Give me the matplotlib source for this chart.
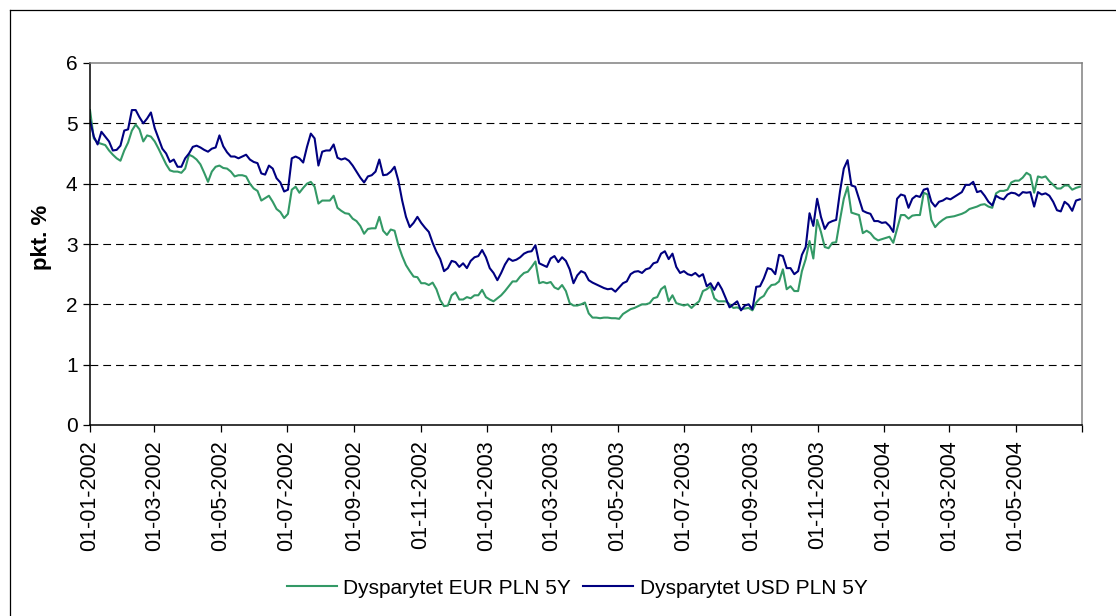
import matplotlib
matplotlib.use("Agg")
import matplotlib.pyplot as plt
import pandas as pd
import numpy as np
from matplotlib.lines import Line2D

# observation dates every 3.5 days (2002-01-01 .. 2004-06-29)
dates = pd.date_range("2002-01-01", periods=261, freq="84h")

# EUR/PLN 5Y spread: values on the weekly dates and on the mid-week dates
eur_week = [
    5.22, 4.68, 4.64, 4.48, 4.38, 4.68, 4.98, 4.70, 4.78, 4.58,
    4.32, 4.20, 4.18, 4.48, 4.40, 4.18, 4.20, 4.30, 4.25, 4.12,
    4.14, 4.00, 3.88, 3.76, 3.70, 3.53, 3.50, 3.95, 3.93, 4.03,
    3.67, 3.72, 3.80, 3.55, 3.50, 3.38, 3.17, 3.26, 3.45, 3.15,
    3.22, 2.80, 2.55, 2.45, 2.35, 2.36, 2.07, 1.98, 2.20, 2.08,
    2.10, 2.15, 2.12, 2.05, 2.15, 2.30, 2.38, 2.52, 2.62, 2.35,
    2.35, 2.28, 2.32, 2.02, 1.98, 2.03, 1.78, 1.77, 1.78, 1.77,
    1.84, 1.92, 1.97, 2.00, 2.10, 2.25, 2.05, 2.02, 1.98, 1.94,
    2.05, 2.25, 2.10, 2.05, 2.00, 1.95, 1.93, 1.90, 2.10, 2.25,
    2.33, 2.58, 2.30, 2.22, 2.75, 2.76, 3.20, 2.93, 3.03, 3.75,
    3.52, 3.48, 3.22, 3.10, 3.08, 3.12, 3.25, 3.48, 3.47, 3.48,
    3.82, 3.28, 3.40, 3.45, 3.48, 3.53, 3.60, 3.65, 3.62, 3.84,
    3.88, 4.02, 4.05, 4.18, 3.85, 4.10, 4.04, 3.92, 3.97, 3.90,
    3.95,
]
eur_mid = [
    4.75, 4.66, 4.55, 4.42, 4.55, 4.88, 4.90, 4.80, 4.70, 4.45,
    4.22, 4.20, 4.25, 4.45, 4.32, 4.03, 4.28, 4.26, 4.20, 4.14,
    4.12, 3.92, 3.72, 3.80, 3.58, 3.43, 3.90, 3.85, 4.00, 3.95,
    3.72, 3.72, 3.60, 3.51, 3.42, 3.30, 3.25, 3.26, 3.22, 3.24,
    2.98, 2.65, 2.46, 2.35, 2.32, 2.25, 1.97, 2.15, 2.08, 2.12,
    2.15, 2.24, 2.08, 2.10, 2.22, 2.38, 2.46, 2.54, 2.71, 2.37,
    2.37, 2.25, 2.22, 1.98, 2.00, 1.85, 1.78, 1.78, 1.77, 1.76,
    1.88, 1.94, 2.00, 2.02, 2.12, 2.30, 2.15, 2.00, 2.00, 2.00,
    2.22, 2.30, 2.05, 2.05, 1.94, 1.92, 1.94, 2.03, 2.14, 2.32,
    2.38, 2.25, 2.22, 2.55, 3.05, 3.40, 2.95, 3.02, 3.40, 3.95,
    3.50, 3.18, 3.18, 3.06, 3.10, 3.02, 3.48, 3.42, 3.48, 3.85,
    3.40, 3.35, 3.44, 3.46, 3.50, 3.58, 3.62, 3.66, 3.60, 3.88,
    3.90, 4.05, 4.10, 4.14, 4.12, 4.12, 3.98, 3.92, 3.97, 3.93,
]

# USD/PLN 5Y spread
usd_week = [
    5.05, 4.65, 4.78, 4.55, 4.63, 4.90, 5.22, 5.00, 5.18, 4.75,
    4.50, 4.40, 4.28, 4.50, 4.63, 4.56, 4.58, 4.80, 4.52, 4.45,
    4.45, 4.40, 4.34, 4.15, 4.25, 4.02, 3.90, 4.45, 4.35, 4.83,
    4.30, 4.55, 4.65, 4.40, 4.38, 4.20, 4.02, 4.14, 4.40, 4.15,
    4.28, 3.72, 3.28, 3.45, 3.27, 3.02, 2.75, 2.60, 2.70, 2.68,
    2.72, 2.80, 2.78, 2.52, 2.52, 2.76, 2.74, 2.84, 2.88, 2.68,
    2.62, 2.80, 2.78, 2.58, 2.48, 2.52, 2.36, 2.30, 2.25, 2.21,
    2.35, 2.50, 2.55, 2.58, 2.68, 2.84, 2.75, 2.62, 2.55, 2.48,
    2.46, 2.30, 2.24, 2.25, 1.95, 2.05, 1.98, 1.92, 2.30, 2.60,
    2.50, 2.80, 2.60, 2.55, 2.95, 3.30, 3.45, 3.35, 3.40, 4.25,
    3.97, 3.75, 3.52, 3.38, 3.35, 3.30, 3.75, 3.80, 3.75, 3.78,
    3.92, 3.62, 3.72, 3.74, 3.82, 3.98, 4.03, 3.88, 3.70, 3.80,
    3.74, 3.85, 3.80, 3.85, 3.62, 3.82, 3.80, 3.56, 3.70, 3.55,
    3.74,
]
usd_mid = [
    4.78, 4.86, 4.70, 4.56, 4.88, 5.22, 5.10, 5.08, 4.92, 4.58,
    4.36, 4.28, 4.42, 4.61, 4.60, 4.53, 4.60, 4.62, 4.45, 4.42,
    4.48, 4.36, 4.17, 4.30, 4.09, 3.87, 4.42, 4.42, 4.61, 4.75,
    4.53, 4.55, 4.43, 4.42, 4.30, 4.10, 4.12, 4.20, 4.14, 4.20,
    4.05, 3.45, 3.35, 3.35, 3.20, 2.87, 2.55, 2.72, 2.62, 2.60,
    2.78, 2.90, 2.60, 2.40, 2.66, 2.72, 2.78, 2.87, 2.98, 2.65,
    2.76, 2.70, 2.72, 2.35, 2.55, 2.40, 2.33, 2.27, 2.26, 2.28,
    2.38, 2.54, 2.52, 2.60, 2.70, 2.88, 2.84, 2.52, 2.50, 2.52,
    2.50, 2.35, 2.36, 2.10, 2.00, 1.90, 2.00, 2.29, 2.43, 2.58,
    2.82, 2.60, 2.50, 2.82, 3.51, 3.75, 3.25, 3.38, 3.87, 4.39,
    3.95, 3.55, 3.50, 3.38, 3.36, 3.20, 3.82, 3.60, 3.80, 3.90,
    3.70, 3.70, 3.76, 3.78, 3.86, 3.98, 3.86, 3.80, 3.64, 3.76,
    3.82, 3.84, 3.86, 3.86, 3.86, 3.84, 3.70, 3.54, 3.65, 3.72,
]

series_labels = ["Dysparytet EUR PLN 5Y", "Dysparytet USD PLN 5Y"]
y_ticks = [0, 1, 2, 3, 4, 5, 6]
y_label = "pkt. %"


def interleave(week, mid):
    out = np.empty(len(week) + len(mid))
    out[0::2] = week
    out[1::2] = mid
    return out


eur = interleave(eur_week, eur_mid)
usd = interleave(usd_week, usd_mid)

plt.rcParams["font.family"] = ["Liberation Sans", "DejaVu Sans"]

W, H = 1116, 616
fig = plt.figure(figsize=(W / 100, H / 100), dpi=100)
fig.patch.set_facecolor("white")

# outer chart-area border (left and top visible)
fig.add_artist(Line2D([10 / W, 10 / W], [0, 1 - 10 / H], transform=fig.transFigure,
                      color="black", lw=0.9))
fig.add_artist(Line2D([10 / W, 1], [1 - 10 / H, 1 - 10 / H], transform=fig.transFigure,
                      color="black", lw=0.9))

left, right, top, bottom = 90, 1082, 63, 425
ax = fig.add_axes([left / W, 1 - bottom / H, (right - left) / W, (bottom - top) / H])

ax.plot(dates, eur, color="#339966", lw=1.5, label=series_labels[0])
ax.plot(dates, usd, color="#000080", lw=1.5, label=series_labels[1])

ax.set_ylim(0, 6)
ax.set_yticks(y_ticks)
ax.set_yticklabels([str(v) for v in y_ticks], fontsize=15)
ax.set_xlim(pd.Timestamp("2002-01-01"), pd.Timestamp("2004-07-01"))

xt = pd.date_range("2002-01-01", "2004-07-01", freq="2MS")
ax.set_xticks(xt)
ax.set_xticklabels([d.strftime("%d-%m-%Y") if d < pd.Timestamp("2004-06-01") else ""
                    for d in xt], rotation=90, fontsize=15.5)

for v in y_ticks[1:-1]:
    ax.axhline(v, color="black", lw=0.8, linestyle=(0, (7, 4.5)), zorder=0)

ax.tick_params(axis="both", direction="out", length=5, width=0.9, color="black", pad=4)
ax.tick_params(axis="x", pad=6)

for s in ["left", "bottom"]:
    ax.spines[s].set_color("black")
    ax.spines[s].set_linewidth(1.1)
for s in ["top", "right"]:
    ax.spines[s].set_color("#808080")
    ax.spines[s].set_linewidth(1.1)

fig.text(42 / W, 1 - 237 / H, y_label, rotation=90, ha="center", va="center",
         fontsize=16, fontweight="bold")

fig.legend(loc="center", bbox_to_anchor=(577 / W, 1 - 588 / H), ncol=2,
           frameon=False, fontsize=15, handlelength=2.4, handletextpad=0.3,
           columnspacing=0.6)

fig.savefig("out.png", dpi=100, facecolor="white")
